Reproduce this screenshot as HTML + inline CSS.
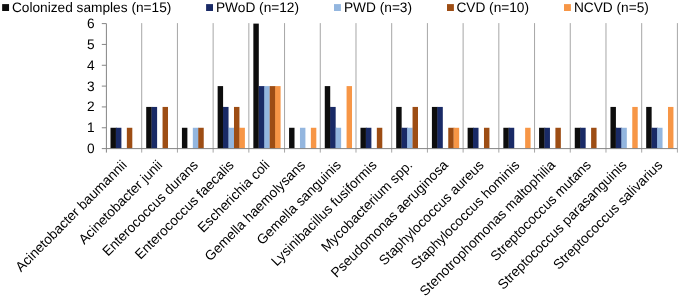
<!DOCTYPE html>
<html><head><meta charset="utf-8"><style>
html,body{margin:0;padding:0;background:#fff;}
body{width:680px;height:297px;overflow:hidden;}
svg{display:block;will-change:transform;}
text{font-family:"Liberation Sans",sans-serif;font-size:13.7px;fill:#000;text-rendering:geometricPrecision;}
</style></head><body>
<svg width="680" height="297" viewBox="0 0 680 297">
<line x1="141.71" y1="23.10" x2="141.71" y2="152.60" stroke="#a6a6a6" stroke-width="1"/>
<line x1="177.43" y1="23.10" x2="177.43" y2="152.60" stroke="#a6a6a6" stroke-width="1"/>
<line x1="213.14" y1="23.10" x2="213.14" y2="152.60" stroke="#a6a6a6" stroke-width="1"/>
<line x1="248.85" y1="23.10" x2="248.85" y2="152.60" stroke="#a6a6a6" stroke-width="1"/>
<line x1="284.56" y1="23.10" x2="284.56" y2="152.60" stroke="#a6a6a6" stroke-width="1"/>
<line x1="320.27" y1="23.10" x2="320.27" y2="152.60" stroke="#a6a6a6" stroke-width="1"/>
<line x1="355.99" y1="23.10" x2="355.99" y2="152.60" stroke="#a6a6a6" stroke-width="1"/>
<line x1="391.70" y1="23.10" x2="391.70" y2="152.60" stroke="#a6a6a6" stroke-width="1"/>
<line x1="427.41" y1="23.10" x2="427.41" y2="152.60" stroke="#a6a6a6" stroke-width="1"/>
<line x1="463.12" y1="23.10" x2="463.12" y2="152.60" stroke="#a6a6a6" stroke-width="1"/>
<line x1="498.84" y1="23.10" x2="498.84" y2="152.60" stroke="#a6a6a6" stroke-width="1"/>
<line x1="534.55" y1="23.10" x2="534.55" y2="152.60" stroke="#a6a6a6" stroke-width="1"/>
<line x1="570.26" y1="23.10" x2="570.26" y2="152.60" stroke="#a6a6a6" stroke-width="1"/>
<line x1="605.97" y1="23.10" x2="605.97" y2="152.60" stroke="#a6a6a6" stroke-width="1"/>
<line x1="641.69" y1="23.10" x2="641.69" y2="152.60" stroke="#a6a6a6" stroke-width="1"/>
<line x1="677.40" y1="23.10" x2="677.40" y2="152.60" stroke="#a6a6a6" stroke-width="1"/>
<rect x="110.50" y="127.77" width="5.45" height="20.83" fill="#0d0d0d"/>
<rect x="115.94" y="127.77" width="0.70" height="20.83" fill="#0d0d0d"/>
<rect x="115.95" y="127.77" width="5.45" height="20.83" fill="#192a66"/>
<rect x="126.85" y="127.77" width="5.45" height="20.83" fill="#9d4d14"/>
<rect x="146.21" y="106.93" width="5.45" height="41.67" fill="#0d0d0d"/>
<rect x="151.65" y="106.93" width="0.70" height="41.67" fill="#0d0d0d"/>
<rect x="151.66" y="106.93" width="5.45" height="41.67" fill="#192a66"/>
<rect x="162.56" y="106.93" width="5.45" height="41.67" fill="#9d4d14"/>
<rect x="181.93" y="127.77" width="5.45" height="20.83" fill="#0d0d0d"/>
<rect x="192.83" y="127.77" width="5.45" height="20.83" fill="#93b6df"/>
<rect x="198.27" y="127.77" width="0.70" height="20.83" fill="#93b6df"/>
<rect x="198.28" y="127.77" width="5.45" height="20.83" fill="#9d4d14"/>
<rect x="217.64" y="86.10" width="5.45" height="62.50" fill="#0d0d0d"/>
<rect x="223.08" y="106.93" width="0.70" height="41.67" fill="#0d0d0d"/>
<rect x="223.09" y="106.93" width="5.45" height="41.67" fill="#192a66"/>
<rect x="228.53" y="127.77" width="0.70" height="20.83" fill="#192a66"/>
<rect x="228.54" y="127.77" width="5.45" height="20.83" fill="#93b6df"/>
<rect x="233.98" y="127.77" width="0.70" height="20.83" fill="#93b6df"/>
<rect x="233.99" y="106.93" width="5.45" height="41.67" fill="#9d4d14"/>
<rect x="239.43" y="127.77" width="0.70" height="20.83" fill="#9d4d14"/>
<rect x="239.44" y="127.77" width="5.45" height="20.83" fill="#f79646"/>
<rect x="253.35" y="23.60" width="5.45" height="125.00" fill="#0d0d0d"/>
<rect x="258.79" y="86.10" width="0.70" height="62.50" fill="#0d0d0d"/>
<rect x="258.80" y="86.10" width="5.45" height="62.50" fill="#192a66"/>
<rect x="264.24" y="86.10" width="0.70" height="62.50" fill="#192a66"/>
<rect x="264.25" y="86.10" width="5.45" height="62.50" fill="#93b6df"/>
<rect x="269.69" y="86.10" width="0.70" height="62.50" fill="#93b6df"/>
<rect x="269.70" y="86.10" width="5.45" height="62.50" fill="#9d4d14"/>
<rect x="275.14" y="86.10" width="0.70" height="62.50" fill="#9d4d14"/>
<rect x="275.15" y="86.10" width="5.45" height="62.50" fill="#f79646"/>
<rect x="289.06" y="127.77" width="5.45" height="20.83" fill="#0d0d0d"/>
<rect x="299.96" y="127.77" width="5.45" height="20.83" fill="#93b6df"/>
<rect x="310.86" y="127.77" width="5.45" height="20.83" fill="#f79646"/>
<rect x="324.77" y="86.10" width="5.45" height="62.50" fill="#0d0d0d"/>
<rect x="330.21" y="106.93" width="0.70" height="41.67" fill="#0d0d0d"/>
<rect x="330.22" y="106.93" width="5.45" height="41.67" fill="#192a66"/>
<rect x="335.66" y="127.77" width="0.70" height="20.83" fill="#192a66"/>
<rect x="335.67" y="127.77" width="5.45" height="20.83" fill="#93b6df"/>
<rect x="346.57" y="86.10" width="5.45" height="62.50" fill="#f79646"/>
<rect x="360.49" y="127.77" width="5.45" height="20.83" fill="#0d0d0d"/>
<rect x="365.93" y="127.77" width="0.70" height="20.83" fill="#0d0d0d"/>
<rect x="365.94" y="127.77" width="5.45" height="20.83" fill="#192a66"/>
<rect x="376.84" y="127.77" width="5.45" height="20.83" fill="#9d4d14"/>
<rect x="396.20" y="106.93" width="5.45" height="41.67" fill="#0d0d0d"/>
<rect x="401.64" y="127.77" width="0.70" height="20.83" fill="#0d0d0d"/>
<rect x="401.65" y="127.77" width="5.45" height="20.83" fill="#192a66"/>
<rect x="407.09" y="127.77" width="0.70" height="20.83" fill="#192a66"/>
<rect x="407.10" y="127.77" width="5.45" height="20.83" fill="#93b6df"/>
<rect x="412.54" y="127.77" width="0.70" height="20.83" fill="#93b6df"/>
<rect x="412.55" y="106.93" width="5.45" height="41.67" fill="#9d4d14"/>
<rect x="431.91" y="106.93" width="5.45" height="41.67" fill="#0d0d0d"/>
<rect x="437.35" y="106.93" width="0.70" height="41.67" fill="#0d0d0d"/>
<rect x="437.36" y="106.93" width="5.45" height="41.67" fill="#192a66"/>
<rect x="448.26" y="127.77" width="5.45" height="20.83" fill="#9d4d14"/>
<rect x="453.70" y="127.77" width="0.70" height="20.83" fill="#9d4d14"/>
<rect x="453.71" y="127.77" width="5.45" height="20.83" fill="#f79646"/>
<rect x="467.62" y="127.77" width="5.45" height="20.83" fill="#0d0d0d"/>
<rect x="473.06" y="127.77" width="0.70" height="20.83" fill="#0d0d0d"/>
<rect x="473.07" y="127.77" width="5.45" height="20.83" fill="#192a66"/>
<rect x="483.98" y="127.77" width="5.45" height="20.83" fill="#9d4d14"/>
<rect x="503.34" y="127.77" width="5.45" height="20.83" fill="#0d0d0d"/>
<rect x="508.78" y="127.77" width="0.70" height="20.83" fill="#0d0d0d"/>
<rect x="508.79" y="127.77" width="5.45" height="20.83" fill="#192a66"/>
<rect x="525.14" y="127.77" width="5.45" height="20.83" fill="#f79646"/>
<rect x="539.05" y="127.77" width="5.45" height="20.83" fill="#0d0d0d"/>
<rect x="544.49" y="127.77" width="0.70" height="20.83" fill="#0d0d0d"/>
<rect x="544.50" y="127.77" width="5.45" height="20.83" fill="#192a66"/>
<rect x="555.40" y="127.77" width="5.45" height="20.83" fill="#9d4d14"/>
<rect x="574.76" y="127.77" width="5.45" height="20.83" fill="#0d0d0d"/>
<rect x="580.20" y="127.77" width="0.70" height="20.83" fill="#0d0d0d"/>
<rect x="580.21" y="127.77" width="5.45" height="20.83" fill="#192a66"/>
<rect x="591.11" y="127.77" width="5.45" height="20.83" fill="#9d4d14"/>
<rect x="610.47" y="106.93" width="5.45" height="41.67" fill="#0d0d0d"/>
<rect x="615.91" y="127.77" width="0.70" height="20.83" fill="#0d0d0d"/>
<rect x="615.92" y="127.77" width="5.45" height="20.83" fill="#192a66"/>
<rect x="621.37" y="127.77" width="0.70" height="20.83" fill="#192a66"/>
<rect x="621.37" y="127.77" width="5.45" height="20.83" fill="#93b6df"/>
<rect x="632.27" y="106.93" width="5.45" height="41.67" fill="#f79646"/>
<rect x="646.19" y="106.93" width="5.45" height="41.67" fill="#0d0d0d"/>
<rect x="651.63" y="127.77" width="0.70" height="20.83" fill="#0d0d0d"/>
<rect x="651.64" y="127.77" width="5.45" height="20.83" fill="#192a66"/>
<rect x="657.08" y="127.77" width="0.70" height="20.83" fill="#192a66"/>
<rect x="657.09" y="127.77" width="5.45" height="20.83" fill="#93b6df"/>
<rect x="667.99" y="106.93" width="5.45" height="41.67" fill="#f79646"/>
<line x1="106.40" y1="148.60" x2="677.40" y2="148.60" stroke="#858585" stroke-width="1"/>
<line x1="106.40" y1="23.60" x2="106.40" y2="152.60" stroke="#858585" stroke-width="1"/>
<line x1="101.80" y1="148.60" x2="106.40" y2="148.60" stroke="#858585" stroke-width="1"/>
<text x="94.50" y="153.00" text-anchor="end">0</text>
<line x1="101.80" y1="127.77" x2="106.40" y2="127.77" stroke="#858585" stroke-width="1"/>
<text x="94.50" y="132.17" text-anchor="end">1</text>
<line x1="101.80" y1="106.93" x2="106.40" y2="106.93" stroke="#858585" stroke-width="1"/>
<text x="94.50" y="111.33" text-anchor="end">2</text>
<line x1="101.80" y1="86.10" x2="106.40" y2="86.10" stroke="#858585" stroke-width="1"/>
<text x="94.50" y="90.50" text-anchor="end">3</text>
<line x1="101.80" y1="65.27" x2="106.40" y2="65.27" stroke="#858585" stroke-width="1"/>
<text x="94.50" y="69.67" text-anchor="end">4</text>
<line x1="101.80" y1="44.43" x2="106.40" y2="44.43" stroke="#858585" stroke-width="1"/>
<text x="94.50" y="48.83" text-anchor="end">5</text>
<line x1="101.80" y1="23.60" x2="106.40" y2="23.60" stroke="#858585" stroke-width="1"/>
<text x="94.50" y="28.00" text-anchor="end">6</text>
<text x="127.56" y="165.90" text-anchor="end" transform="rotate(-45 127.56 165.90)">Acinetobacter baumannii</text>
<text x="163.27" y="165.90" text-anchor="end" transform="rotate(-45 163.27 165.90)">Acinetobacter junii</text>
<text x="198.98" y="165.90" text-anchor="end" transform="rotate(-45 198.98 165.90)">Enterococcus durans</text>
<text x="234.69" y="165.90" text-anchor="end" transform="rotate(-45 234.69 165.90)">Enterococcus faecalis</text>
<text x="270.41" y="165.90" text-anchor="end" transform="rotate(-45 270.41 165.90)">Escherichia coli</text>
<text x="306.12" y="165.90" text-anchor="end" transform="rotate(-45 306.12 165.90)">Gemella haemolysans</text>
<text x="341.83" y="165.90" text-anchor="end" transform="rotate(-45 341.83 165.90)">Gemella sanguinis</text>
<text x="377.54" y="165.90" text-anchor="end" transform="rotate(-45 377.54 165.90)">Lysinibacillus fusiformis</text>
<text x="413.26" y="165.90" text-anchor="end" transform="rotate(-45 413.26 165.90)">Mycobacterium spp.</text>
<text x="448.97" y="165.90" text-anchor="end" transform="rotate(-45 448.97 165.90)">Pseudomonas aeruginosa</text>
<text x="484.68" y="165.90" text-anchor="end" transform="rotate(-45 484.68 165.90)">Staphylococcus aureus</text>
<text x="520.39" y="165.90" text-anchor="end" transform="rotate(-45 520.39 165.90)">Staphylococcus hominis</text>
<text x="556.11" y="165.90" text-anchor="end" transform="rotate(-45 556.11 165.90)">Stenotrophomonas maltophilia</text>
<text x="591.82" y="165.90" text-anchor="end" transform="rotate(-45 591.82 165.90)">Streptococcus mutans</text>
<text x="627.53" y="165.90" text-anchor="end" transform="rotate(-45 627.53 165.90)">Streptococcus parasanguinis</text>
<text x="663.24" y="165.90" text-anchor="end" transform="rotate(-45 663.24 165.90)">Streptococcus salivarius</text>
<rect x="2.15" y="4.10" width="6.90" height="6.90" fill="#0d0d0d"/>
<text x="11.95" y="12.30">Colonized samples (n=15)</text>
<rect x="206.10" y="4.10" width="6.90" height="6.90" fill="#192a66"/>
<text x="215.98" y="12.30">PWoD (n=12)</text>
<rect x="334.00" y="4.10" width="6.90" height="6.90" fill="#93b6df"/>
<text x="343.98" y="12.30">PWD (n=3)</text>
<rect x="447.00" y="4.10" width="6.90" height="6.90" fill="#9d4d14"/>
<text x="456.40" y="12.30">CVD (n=10)</text>
<rect x="564.00" y="4.10" width="6.90" height="6.90" fill="#f79646"/>
<text x="573.98" y="12.30">NCVD (n=5)</text>
</svg>
</body></html>
